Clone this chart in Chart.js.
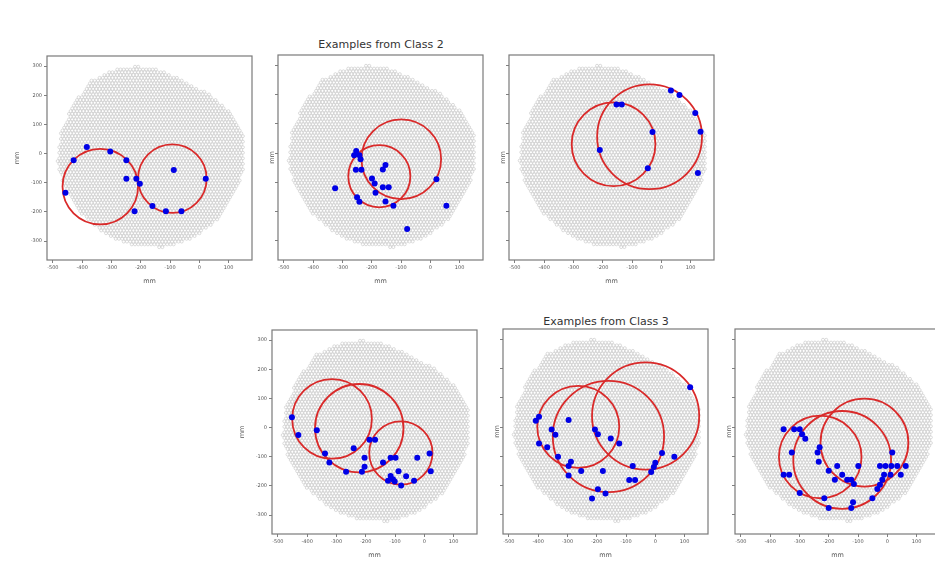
<!DOCTYPE html>
<html>
<head>
<meta charset="utf-8">
<script src="https://cdn.jsdelivr.net/npm/chart.js@4.4.1/dist/chart.umd.min.js"></script>
<style>
  html, body { margin: 0; padding: 0; background: #fff; }
  body { width: 935px; height: 562px; overflow: hidden; position: relative; font-family: 'DejaVu Sans', sans-serif; }
  .ttl { position: absolute; font: 11px 'DejaVu Sans', sans-serif; color: #333; transform: translateX(-50%); white-space: nowrap; line-height: 13px; }
  canvas { position: absolute; }
</style>
</head>
<body>
<div class="ttl" style="left:381px;top:38px">Examples from Class 2</div>
<div class="ttl" style="left:606px;top:315px">Examples from Class 3</div>
<script>
// ---- tick labels ----
const xTicks = [-500, -400, -300, -200, -100, 0, 100];
const yTicks = [300, 200, 100, 0, -100, -200, -300];
const axisTitle = 'mm';
const chartTitles = ['Examples from Class 2', 'Examples from Class 3'];

// ---- detector outline (mm) ----
const outlineX = [-430, -370, -300, -220, -140, -60, 40, 110, 150, 152, 120, 60, -20, -120, -220, -320, -400, -460, -485, -475];
const outlineY = [170, 250, 285, 300, 290, 255, 200, 140, 60, -60, -140, -230, -290, -322, -318, -280, -210, -120, -30, 70];

// ---- panel 1 (Class 2) ----
const p1X = [-384, -429, -304, -249, -249, -457, -215, -203, -221, -160, -114, -61, -87, 22];
const p1Y = [23, -23, 7, -23, -86, -134, -86, -103, -198, -180, -198, -198, -56, -86];
const p1CircleX = [-338, -92];
const p1CircleY = [-113, -86];
const p1CircleR = [129, 117];

// ---- panel 2 (Class 2) ----
const p2X = [-325, -253, -260, -242, -238, -254, -235, -153, -162, -199, -190, -187, -162, -142, -250, -242, -153, -126, 21, 55, -79];
const p2Y = [-120, 7, -7, -7, -21, -57, -57, -41, -56, -87, -104, -135, -117, -117, -151, -166, -165, -180, -89, -180, -259];
const p2CircleX = [-174, -99];
const p2CircleY = [-79, -21];
const p2CircleR = [106, 136];

// ---- panel 3 (Class 2) ----
const p3X = [-153, -135, -210, -30, -46, 33, 62, 116, 134, 125];
const p3Y = [166, 166, 11, 72, -52, 214, 198, 137, 73, -68];
const p3CircleX = [-163, -40];
const p3CircleY = [30, 56];
const p3CircleR = [143, 179];

// ---- panel 4 (Class 3) ----
const p4X = [-452, -430, -367, -339, -324, -267, -241, -213, -204, -204, -187, -168, -141, -115, -98, -115, -107, -124, -101, -88, -79, -62, -35, -24, 18, 22];
const p4Y = [36, -25, -9, -89, -120, -151, -71, -151, -134, -103, -42, -42, -120, -103, -103, -166, -177, -182, -185, -150, -199, -167, -182, -103, -89, -150];
const p4CircleX = [-315, -222, -80];
const p4CircleY = [30, -2, -87];
const p4CircleR = [136, 151, 108];

// ---- panel 5 (Class 3) ----
const p5X = [-408, -397, -354, -341, -397, -369, -332, -296, -288, -296, -296, -253, -206, -196, -179, -152, -123, -196, -170, -216, -77, -89, -69, -14, 0, -5, 23, 65, 119];
const p5Y = [22, 35, -8, -26, -56, -69, -101, 24, -118, -133, -165, -150, -8, -24, -150, -39, -56, -212, -227, -244, -133, -181, -181, -153, -122, -136, -88, -101, 136];
const p5CircleX = [-263, -160, -33];
const p5CircleY = [1, -32, 38];
const p5CircleR = [140, 190, 183];

// ---- panel 6 (Class 3) ----
const p6X = [-354, -318, -299, -291, -280, -326, -354, -335, -299, -231, -238, -234, -200, -171, -179, -154, -137, -123, -114, -99, -215, -200, -117, -123, -51, -34, -25, -17, -11, -25, -6, 14, 34, 63, 17, 11, 46];
const p6Y = [-7, -7, -7, -24, -40, -87, -163, -163, -225, -69, -87, -118, -149, -133, -180, -163, -180, -180, -194, -133, -243, -276, -257, -276, -243, -211, -197, -180, -163, -133, -133, -133, -133, -133, -87, -163, -163];
const p6CircleX = [-229, -154, -78];
const p6CircleY = [-102, -112, -53];
const p6CircleR = [141, 167, 150];

// ---- layout ----
const BOX = 205;
const panels = [
  { left: 47,  top: 55,  labels: true,  xs: p1X, ys: p1Y, cx: p1CircleX, cy: p1CircleY, cr: p1CircleR },
  { left: 278, top: 55,  labels: false, xs: p2X, ys: p2Y, cx: p2CircleX, cy: p2CircleY, cr: p2CircleR },
  { left: 509, top: 55,  labels: false, xs: p3X, ys: p3Y, cx: p3CircleX, cy: p3CircleY, cr: p3CircleR },
  { left: 272, top: 329, labels: true,  xs: p4X, ys: p4Y, cx: p4CircleX, cy: p4CircleY, cr: p4CircleR },
  { left: 503, top: 329, labels: false, xs: p5X, ys: p5Y, cx: p5CircleX, cy: p5CircleY, cr: p5CircleR },
  { left: 735, top: 329, labels: false, xs: p6X, ys: p6Y, cx: p6CircleX, cy: p6CircleY, cr: p6CircleR }
];

function insidePoly(x, y) {
  let inside = false;
  for (let i = 0, j = outlineX.length - 1; i < outlineX.length; j = i++) {
    const xi = outlineX[i], yi = outlineY[i], xj = outlineX[j], yj = outlineY[j];
    if (((yi > y) !== (yj > y)) && (x < (xj - xi) * (y - yi) / (yj - yi) + xi)) inside = !inside;
  }
  return inside;
}

const detectorPlugin = {
  id: 'detector',
  beforeDatasetsDraw(chart, args, opts) {
    const { ctx, scales: { x, y }, chartArea: a } = chart;
    ctx.save();
    ctx.beginPath();
    ctx.rect(a.left, a.top, a.right - a.left, a.bottom - a.top);
    ctx.clip();
    // hexagonal sensor array
    const pitch = 11;
    const rowH = pitch * Math.sqrt(3) / 2;
    const pxPer = Math.abs(x.getPixelForValue(1) - x.getPixelForValue(0));
    const rr = pitch * 0.46 * pxPer;
    ctx.strokeStyle = '#c4c4c4';
    ctx.lineWidth = 0.6;
    let row = 0;
    for (let yy = -340; yy <= 320; yy += rowH, row++) {
      const off = (row % 2) ? pitch / 2 : 0;
      for (let xx = -500 + off; xx <= 180; xx += pitch) {
        if (!insidePoly(xx, yy)) continue;
        ctx.beginPath();
        ctx.arc(x.getPixelForValue(xx), y.getPixelForValue(yy), rr, 0, Math.PI * 2);
        ctx.stroke();
      }
    }
    // fitted rings
    const p = opts.panel;
    ctx.strokeStyle = '#d92a2a';
    ctx.lineWidth = 1.8;
    for (let i = 0; i < p.cx.length; i++) {
      const px = x.getPixelForValue(p.cx[i]);
      const py = y.getPixelForValue(p.cy[i]);
      const pr = Math.abs(x.getPixelForValue(p.cx[i] + p.cr[i]) - px);
      ctx.beginPath();
      ctx.arc(px, py, pr, 0, Math.PI * 2);
      ctx.stroke();
    }
    ctx.restore();
  },
  afterDraw(chart) {
    const { ctx, chartArea: a } = chart;
    ctx.save();
    ctx.strokeStyle = '#7a7a7a';
    ctx.lineWidth = 1.2;
    ctx.strokeRect(a.left, a.top, a.right - a.left, a.bottom - a.top);
    ctx.restore();
  }
};

panels.forEach((p) => {
  const yW = p.labels ? 34 : 10;
  const padTop = 4, padRight = 4, xH = 30;
  const cv = document.createElement('canvas');
  const W = yW + BOX + padRight, H = padTop + BOX + xH;
  cv.width = W; cv.height = H;
  cv.style.width = W + 'px'; cv.style.height = H + 'px';
  cv.style.left = (p.left - yW) + 'px';
  cv.style.top = (p.top - padTop) + 'px';
  document.body.appendChild(cv);
  new Chart(cv, {
    type: 'scatter',
    data: {
      datasets: [{
        data: p.xs.map((v, i) => ({ x: v, y: p.ys[i] })),
        backgroundColor: '#0000e6',
        borderWidth: 0,
        pointRadius: 3
      }]
    },
    options: {
      responsive: false,
      animation: false,
      devicePixelRatio: 1,
      events: [],
      layout: { padding: { top: padTop, right: padRight, left: 0, bottom: 0 } },
      plugins: {
        legend: { display: false },
        tooltip: { enabled: false },
        detector: { panel: p }
      },
      scales: {
        x: {
          type: 'linear', min: -520, max: 180,
          afterBuildTicks: (s) => { s.ticks = xTicks.map(v => ({ value: v })); },
          afterFit: (s) => { s.height = xH; },
          grid: { drawOnChartArea: false, drawTicks: true, tickLength: 3, color: '#808080', lineWidth: 1 },
          border: { display: false },
          ticks: { font: { family: 'DejaVu Sans', size: 5 }, color: '#555', padding: 2, maxRotation: 0, autoSkip: false },
          title: { display: true, text: axisTitle, font: { family: 'DejaVu Sans', size: 6.5 }, color: '#555', padding: { top: 0, bottom: 5 } }
        },
        y: {
          type: 'linear', min: -365, max: 335,
          afterBuildTicks: (s) => { s.ticks = yTicks.map(v => ({ value: v })); },
          afterFit: (s) => { s.width = yW; },
          grid: { drawOnChartArea: false, drawTicks: true, tickLength: 3, color: '#808080', lineWidth: 1 },
          border: { display: false },
          ticks: { display: p.labels, font: { family: 'DejaVu Sans', size: 5 }, color: '#555', padding: 2, autoSkip: false },
          title: { display: true, text: axisTitle, font: { family: 'DejaVu Sans', size: 6.5 }, color: '#555', padding: { top: 0, bottom: 0 } }
        }
      }
    },
    plugins: [detectorPlugin]
  });
});
</script>
</body>
</html>
